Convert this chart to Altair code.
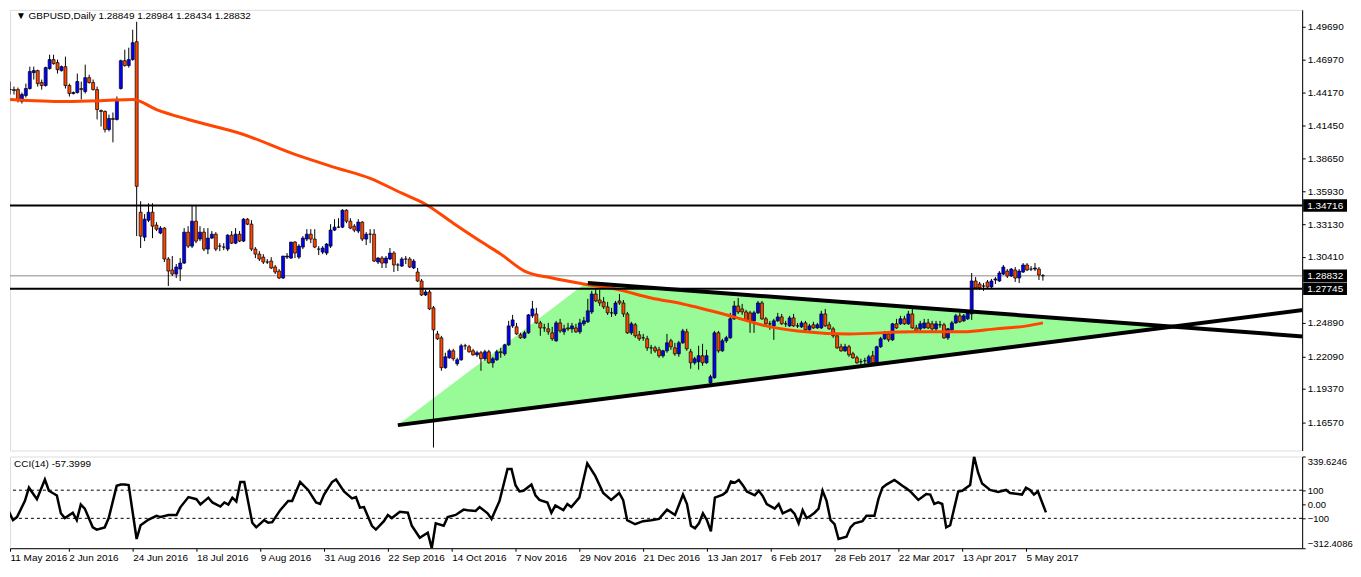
import altair as alt
import pandas as pd

# ---------------- data (prices x 10000) ----------------
OPEN = [
14443,14443,14443,14343,14393,14452,14585,14602,14502,14477,
14619,14694,14669,14602,14635,14477,14410,14418,14452,14427,
14543,14502,14443,14268,14260,14109,14201,14193,14452,14685,
14644,14694,14844,13416,13207,13349,13416,13308,13241,13283,
13024,12932,12898,12940,12990,13249,13132,13341,13191,13249,
13107,13199,13232,13132,13124,13107,13224,13157,13232,13174,
13358,13316,13107,13065,13040,12999,13007,12957,12923,12865,
13040,13032,13166,13040,13124,13191,13232,13191,13107,13082,
13074,13132,13266,13291,13291,13433,13341,13299,13258,13333,
13191,13232,13232,12999,13032,12990,13024,13074,12974,12965,
13024,13024,12949,12915,12840,12723,12748,12615,12397,12364,
12114,12197,12255,12147,12180,12297,12289,12255,12222,12239,
12189,12247,12155,12180,12247,12230,12305,12464,12456,12389,
12364,12406,12548,12564,12489,12447,12439,12406,12339,12489,
12414,12447,12439,12447,12414,12481,12498,12581,12731,12681,
12665,12623,12573,12564,12673,12656,12564,12406,12473,12389,
12364,12356,12280,12280,12264,12214,12255,12339,12280,12230,
12322,12414,12247,12155,12164,12214,12155,11988,12030,12406,
12255,12339,12364,12523,12631,12606,12581,12573,12506,12573,
12656,12523,12481,12464,12506,12539,12481,12464,12531,12464,
12456,12489,12431,12473,12447,12447,12564,12473,12439,12381,
12289,12255,12289,12230,12197,12164,12172,12155,12214,12155,
12289,12356,12397,12347,12481,12481,12523,12481,12564,12447,
12439,12447,12489,12481,12439,12473,12473,12364,12431,12489,
12548,12506,12523,12564,12840,12815,12798,12832,12790,12848,
12840,12898,12923,12882,12932,12865,12915,12974,12940,12940,
12940,12885]
HIGH = [
14510,14468,14460,14418,14493,14635,14635,14610,14527,14635,
14735,14735,14694,14644,14719,14493,14427,14577,14510,14652,
14568,14527,14468,14276,14268,14234,14251,14385,14694,14777,
14794,14944,15011,13508,13400,13491,13491,13333,13299,13291,
13040,13049,12982,13032,13283,13299,13475,13475,13299,13283,
13283,13258,13249,13157,13157,13232,13258,13283,13258,13366,
13366,13349,13124,13090,13065,13024,13040,12974,12940,13049,
13074,13166,13174,13149,13216,13274,13274,13274,13132,13132,
13157,13316,13358,13366,13441,13441,13366,13316,13358,13341,
13249,13274,13274,13040,13049,13049,13116,13090,12990,13040,
13049,13040,13024,12949,12857,12765,12765,12631,12422,12381,
12239,12272,12272,12197,12314,12314,12305,12272,12255,12255,
12264,12264,12205,12264,12280,12314,12506,12556,12489,12406,
12422,12564,12673,12615,12506,12481,12489,12456,12506,12523,
12473,12489,12489,12481,12523,12539,12690,12757,12773,12765,
12706,12665,12615,12673,12731,12681,12581,12498,12489,12422,
12397,12381,12305,12297,12289,12264,12397,12356,12322,12339,
12439,12439,12272,12205,12297,12314,12264,12055,12422,12422,
12356,12381,12573,12673,12698,12648,12598,12590,12590,12673,
12673,12539,12506,12523,12573,12564,12506,12548,12564,12489,
12506,12506,12481,12498,12489,12590,12606,12498,12456,12397,
12314,12314,12305,12247,12214,12189,12197,12222,12255,12297,
12372,12422,12414,12489,12523,12548,12548,12590,12615,12473,
12506,12523,12523,12506,12506,12506,12489,12447,12506,12564,
12573,12564,12590,12907,12873,12832,12823,12848,12857,12873,
12923,12974,12940,12949,12957,12940,12990,12990,12965,12990,
12957,12898]
LOW = [
14402,14402,14335,14326,14376,14443,14527,14468,14443,14468,
14610,14652,14577,14594,14452,14385,14402,14410,14360,14410,
14493,14435,14193,14134,14084,14093,14001,14184,14443,14635,
14627,14685,13216,13116,13174,13333,13199,13258,13232,12999,
12798,12882,12865,12840,12982,13116,13116,13157,13174,13090,
13065,13191,13090,13090,13099,13090,13149,13149,13166,13166,
13308,13090,13032,13007,12982,12982,12940,12898,12857,12857,
13024,13024,13032,13024,13107,13174,13157,13116,13057,13065,
13057,13116,13258,13283,13283,13324,13274,13249,13241,13174,
13141,13157,12999,12982,12949,12949,13015,12915,12923,12957,
12982,12949,12940,12832,12715,12715,12598,11445,12347,12088,
12105,12189,12172,12130,12172,12264,12239,12214,12205,12088,
12172,12147,12114,12172,12197,12214,12297,12447,12389,12356,
12356,12397,12531,12481,12381,12414,12389,12339,12331,12406,
12389,12422,12406,12406,12397,12464,12489,12564,12665,12631,
12606,12556,12539,12548,12640,12539,12397,12389,12364,12339,
12339,12255,12230,12239,12197,12197,12239,12264,12214,12205,
12314,12255,12105,12139,12097,12130,12147,11971,12022,12239,
12247,12322,12356,12514,12564,12556,12506,12406,12406,12564,
12514,12473,12431,12347,12498,12473,12456,12456,12456,12447,
12447,12414,12422,12439,12439,12439,12456,12431,12364,12272,
12247,12247,12205,12189,12147,12139,12139,12139,12130,12139,
12280,12347,12331,12339,12439,12473,12473,12473,12439,12406,
12422,12439,12439,12422,12422,12447,12356,12347,12422,12481,
12489,12498,12514,12514,12773,12765,12757,12782,12782,12815,
12832,12890,12865,12873,12832,12823,12907,12923,12923,12923,
12848,12843]
CLOSE = [
14443,14435,14360,14402,14452,14594,14602,14493,14477,14627,
14694,14660,14610,14635,14477,14410,14418,14510,14443,14543,
14502,14443,14276,14260,14109,14201,14193,14360,14685,14644,
14694,14836,13633,13216,13358,13416,13299,13274,13283,13024,
12923,12898,12957,12990,13249,13132,13341,13174,13249,13107,
13199,13232,13107,13132,13124,13224,13157,13232,13174,13358,
13316,13107,13065,13024,12999,12999,12949,12915,12865,13049,
13049,13166,13074,13132,13199,13232,13191,13124,13107,13116,
13149,13266,13291,13291,13433,13341,13283,13266,13333,13191,
13232,13232,13007,13032,12990,13032,13074,12974,12974,13024,
13024,12957,13007,12840,12723,12748,12606,12431,12356,12114,
12205,12255,12189,12180,12297,12297,12247,12222,12239,12189,
12247,12155,12189,12247,12239,12305,12464,12514,12397,12364,
12406,12556,12606,12489,12447,12447,12414,12356,12489,12422,
12439,12439,12464,12414,12489,12506,12590,12731,12673,12656,
12623,12573,12573,12656,12656,12564,12406,12481,12381,12356,
12364,12280,12280,12255,12214,12255,12322,12289,12230,12322,
12422,12272,12155,12189,12214,12155,12214,12038,12406,12255,
12339,12364,12523,12631,12581,12581,12514,12506,12573,12656,
12523,12481,12481,12506,12539,12481,12481,12531,12464,12464,
12489,12431,12464,12447,12473,12564,12464,12439,12381,12280,
12255,12289,12222,12197,12155,12164,12172,12205,12155,12289,
12356,12397,12347,12481,12447,12523,12481,12564,12447,12422,
12481,12489,12447,12439,12481,12473,12364,12439,12489,12548,
12498,12548,12573,12840,12782,12782,12798,12790,12840,12857,
12907,12957,12882,12940,12865,12923,12974,12932,12940,12949,
12890,12883]

# 200-period moving average (vertices)
MA_BAR = [0, 14, 24, 31, 37, 45, 59, 72, 82, 91, 99, 105, 112, 120, 124, 130,
          137, 145, 153, 162, 170, 182, 191, 199, 212, 228, 241, 249, 257, 261]
MA_VAL = [1.4360, 1.4343, 1.4351, 1.4360, 1.4276, 1.4192, 1.4067, 1.3900, 1.3792,
          1.3700, 1.3575, 1.3483, 1.3324, 1.3149, 1.3065, 1.2923, 1.2865, 1.2815,
          1.2773, 1.2698, 1.2648, 1.2548, 1.2464, 1.2422, 1.2397, 1.2414, 1.2414,
          1.2439, 1.2464, 1.2489]

# CCI(14) vertices
CCI_BAR = [0,1,2,3,5,6,8,10,11,13,14,15,17,18,19,20,22,23,25,26,28,29,30,31,33,34,36,38,39,41,
           43,44,46,48,49,51,52,54,55,56,57,58,59,60,62,63,65,66,67,69,71,72,74,76,78,79,80,82,83,85,
           87,88,89,90,92,93,95,96,97,99,101,102,104,106,107,108,110,111,113,115,116,118,119,121,122,124,126,127,128,129,
           130,132,133,134,136,137,138,140,141,142,144,146,148,150,152,154,155,156,158,160,162,164,166,168,170,171,172,173,174,175,
           176,177,178,179,180,181,182,183,184,185,186,188,189,190,191,193,194,195,197,198,199,200,201,202,203,204,205,206,207,208,
           209,211,212,213,215,216,218,219,220,221,223,224,225,226,227,229,230,231,232,233,234,235,236,237,239,240,242,243,244,245,
           247,249,251,252,255,256,257,258,259,261]
CCI_VAL = [-76,-53,-113,-91,24,118,36,176,96,62,-64,-98,-60,-113,-2,-31,-164,-180,-164,-98,131,140,140,136,-247,-149,-109,-82,-91,-76,
           -76,-20,51,36,-2,47,13,-16,13,-2,47,20,158,158,-131,-164,-113,-131,-127,-42,24,24,158,102,13,2,69,158,176,91,
           42,51,-24,-20,-153,-180,-120,-76,-98,-53,-60,-153,-238,-202,-312.4,-136,-153,-91,-76,-38,-42,-47,-20,-64,-104,24,251,251,136,91,
           96,140,64,31,13,-60,-9,-42,2,-20,47,291,202,80,31,80,29,-113,-142,-120,-113,-104,-38,-76,69,2,-153,-171,-136,-64,
           -113,-193,47,58,69,91,162,153,173,136,91,64,96,58,2,-31,2,-64,-38,-69,-136,-42,-98,-82,-60,-31,96,24,-113,-142,
           -247,-231,-164,-136,-120,-82,-82,36,118,140,173,153,131,113,91,31,51,73,69,2,13,2,-164,-149,91,96,136,339.6,224,147,
           102,87,102,80,69,118,102,69,91,-57.4]

DATE_LABELS = ["11 May 2016", "2 Jun 2016", "24 Jun 2016", "18 Jul 2016", "9 Aug 2016",
               "31 Aug 2016", "22 Sep 2016", "14 Oct 2016", "7 Nov 2016", "29 Nov 2016",
               "21 Dec 2016", "13 Jan 2017", "6 Feb 2017", "28 Feb 2017", "22 Mar 2017",
               "13 Apr 2017", "5 May 2017"]
PRICE_TICKS = [1.49690, 1.46970, 1.44170, 1.41450, 1.38650, 1.35930, 1.33130,
               1.30410, 1.24890, 1.22090, 1.19370, 1.16570]
HLINE_PRICES = [1.34716, 1.27745]
BID_PRICE = 1.28832
BOX_PRICES = [1.34716, 1.28832, 1.27745]

# chart objects (triangle and trend lines)
GREEN_BAR = [98, 145, 292]
GREEN_TOP = [1.1633, 1.2810, 1.2460]
GREEN_BOT = [1.1633, 1.1831, 1.2460]
TREND_ID = ["support", "support", "resistance", "resistance"]
TREND_BAR = [98, 330, 146, 330]
TREND_P = [1.1633, 1.2611, 1.2823, 1.2368]

FONT = "Liberation Sans"

# ---------------- frames ----------------
n = min(len(OPEN), len(HIGH), len(LOW), len(CLOSE))
df = pd.DataFrame({
    "bar": list(range(n)),
    "open": [v / 10000 for v in OPEN[:n]],
    "high": [v / 10000 for v in HIGH[:n]],
    "low": [v / 10000 for v in LOW[:n]],
    "close": [v / 10000 for v in CLOSE[:n]],
})
df["dir"] = ["up" if c > o else ("down" if c < o else "flat") for o, c in zip(df["open"], df["close"])]

ma_df = pd.DataFrame({"bar": MA_BAR, "ma": MA_VAL})
m = min(len(CCI_BAR), len(CCI_VAL))
cci_df = pd.DataFrame({"bar": CCI_BAR[:m], "cci": CCI_VAL[:m]})
green_df = pd.DataFrame({"bar": GREEN_BAR, "top": GREEN_TOP, "bot": GREEN_BOT})
trend_df = pd.DataFrame({"id": TREND_ID, "bar": TREND_BAR, "p": TREND_P})
hl_df = pd.DataFrame({"p": HLINE_PRICES})
bid_df = pd.DataFrame({"p": [BID_PRICE]})
box_df = pd.DataFrame({"p": BOX_PRICES, "label": [f"{v:.5f}" for v in BOX_PRICES]})
box_df["p1"] = box_df["p"] + 0.0052
box_df["p2"] = box_df["p"] - 0.0052
title_df = pd.DataFrame({"t": ["\u25BC GBPUSD,Daily  1.28849 1.28984 1.28434 1.28832"]})
cci_title_df = pd.DataFrame({"t": ["CCI(14) -57.3999"]})
level_df = pd.DataFrame({"lvl": [100, -100]})

W = 1296
MAIN_H = 442
CCI_H = 92

xs = alt.Scale(domain=[1.25, 325.25], nice=False, zero=False)
ys = alt.Scale(domain=[1.14203, 1.5111], nice=False, zero=False)
cs = alt.Scale(domain=[-312.4086, 339.6246], nice=False, zero=False)

price_axis = alt.Axis(orient="right", values=PRICE_TICKS, format=".5f", title=None, grid=False,
                      tickSize=3, labelPadding=2, labelFontSize=10, labelFont=FONT,
                      labelColor="black", tickColor="black", domainColor="black",
                      labelOverlap=False, labelFlush=False)

X = lambda f: alt.X(f, type="quantitative", scale=xs, axis=None)
Y = lambda f: alt.Y(f, type="quantitative", scale=ys, axis=price_axis)

green = alt.Chart(green_df).mark_area(color="#98FB98", opacity=1, orient="vertical", clip=True).encode(
    x=X("bar"), y=Y("top"), y2="bot")
bid = alt.Chart(bid_df).mark_rule(color="#8a8a8a", strokeWidth=1).encode(y=Y("p"))
wicks = alt.Chart(df).mark_rule(color="black", strokeWidth=1, clip=True).encode(
    x=X("bar"), y=Y("low"), y2="high")
bodies = alt.Chart(df).mark_bar(size=3, stroke="black", strokeWidth=0.7, clip=True).encode(
    x=X("bar"), y=Y("open"), y2="close",
    color=alt.Color("dir:N", scale=alt.Scale(domain=["up", "down", "flat"],
                                              range=["#0000FF", "#FF4500", "#000000"]), legend=None))
ma = alt.Chart(ma_df).mark_line(color="#FF4500", strokeWidth=3, clip=True, interpolate="monotone").encode(
    x=X("bar"), y=Y("ma"))
trends = alt.Chart(trend_df).mark_line(color="black", strokeWidth=4, clip=True).encode(
    x=X("bar"), y=Y("p"), detail="id:N")
hlines = alt.Chart(hl_df).mark_rule(color="black", strokeWidth=2).encode(y=Y("p"))
boxes = alt.Chart(box_df).mark_rect(color="black").encode(
    x=alt.value(W + 1), x2=alt.value(W + 45), y=Y("p1"), y2="p2")
box_text = alt.Chart(box_df).mark_text(align="left", baseline="middle", color="white",
                                       fontSize=10, font=FONT).encode(
    x=alt.value(W + 5), y=Y("p"), text="label:N")
title = alt.Chart(title_df).mark_text(align="left", baseline="middle", fontSize=10, font=FONT,
                                      color="black").encode(
    x=alt.value(6), y=alt.value(6), text="t:N")

main = alt.layer(green, bid, wicks, bodies, ma, trends, hlines, boxes, box_text, title).properties(
    width=W, height=MAIN_H)

label_js = "[" + ",".join("'" + s + "'" for s in DATE_LABELS) + "][round(datum.value/16)]"
date_axis = alt.Axis(values=[1.25] + [16 * k for k in range(1, len(DATE_LABELS))], labelExpr=label_js,
                     labelAlign="left", labelPadding=1, tickSize=3, labelFontSize=10, labelFont=FONT,
                     labelColor="black", tickColor="black", domainColor="black", grid=False,
                     title=None, labelFlush=False, labelOverlap=False)
cci_axis = alt.Axis(orient="right", values=[-312.4086, -100, 0, 100, 339.6246],
                    labelExpr="datum.value == 0 ? '0.00' : (abs(datum.value) == 100 ? format(datum.value, 'd') : format(datum.value, '.4f'))",
                    title=None, grid=False, tickSize=3, labelPadding=2, labelFontSize=9.5, labelFont=FONT,
                    labelColor="black", tickColor="black", domainColor="black", labelFlush=True,
                    labelOverlap=False)

cci_line = alt.Chart(cci_df).mark_line(color="black", strokeWidth=2.5, clip=True).encode(
    x=alt.X("bar:Q", scale=xs, axis=date_axis), y=alt.Y("cci:Q", scale=cs, axis=cci_axis))
levels = alt.Chart(level_df).mark_rule(color="black", strokeWidth=1, strokeDash=[3, 3]).encode(
    y=alt.Y("lvl:Q", scale=cs, axis=cci_axis))
cci_title = alt.Chart(cci_title_df).mark_text(align="left", baseline="middle", fontSize=10, font=FONT,
                                              color="black").encode(
    x=alt.value(4), y=alt.value(8), text="t:N")
cci = alt.layer(levels, cci_line, cci_title).properties(width=W, height=CCI_H)

chart = alt.vconcat(main, cci, spacing=4).properties(
    padding={"left": 0, "top": 0, "right": 0, "bottom": 0}
).configure_view(stroke="black", strokeWidth=1).configure(background="white")

chart.save("out.html", embed_options={"renderer": "svg", "actions": False})
